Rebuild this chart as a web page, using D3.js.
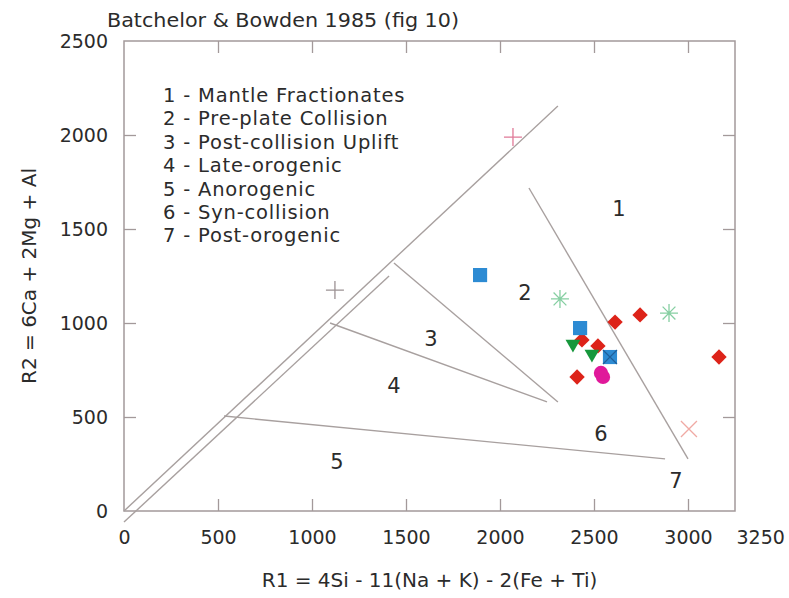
<!DOCTYPE html>
<html>
<head>
<meta charset="utf-8">
<script src="https://cdn.jsdelivr.net/npm/d3@7"></script>
<style>
  body { margin: 0; background: #fff; }
  text { font-family: "DejaVu Sans", sans-serif; fill: #2b2b2b; }
</style>
</head>
<body>
<div id="chart"></div>
<script>
// ---- data (R1, R2 values) ----
var xTicks = [0, 500, 1000, 1500, 2000, 2500, 3000, 3250];
var yTicks = [0, 500, 1000, 1500, 2000, 2500];

var fieldNotes = ["1 - Mantle Fractionates", "2 - Pre-plate Collision", "3 - Post-collision Uplift",
  "4 - Late-orogenic", "5 - Anorogenic", "6 - Syn-collision", "7 - Post-orogenic"];

// field boundaries [r1 start, r2 start, r1 end, r2 end]
var boundaries = [
  [0, 0, 2308, 2154],
  [0, -59, 1410, 1250],
  [1436, 1319, 2308, 580],
  [1096, 1000, 2250, 580],
  [532, 505, 2878, 277],
  [2154, 1718, 3000, 277]
];
var fieldNames = ["1", "2", "3", "4", "5", "6", "7"];
var fieldR1 = [2633, 2133, 1633, 1436, 1133, 2537, 2936];
var fieldR2 = [1612, 1165, 920, 670, 266, 415, 165];

var diamondR1 = [2612, 2745, 2436, 2521, 3165, 2410];
var diamondR2 = [1005, 1043, 910, 878, 819, 713];
var triangleR1 = [2388, 2489];
var triangleR2 = [888, 835];
var squareR1 = [1894, 2426];
var squareR2 = [1255, 973];
var squareXR1 = [2585];
var squareXR2 = [819];
var circleR1 = [2537, 2548];
var circleR2 = [734, 713];
var starR1 = [2319, 2899];
var starR2 = [1128, 1053];
var pinkPlusR1 = [2069];
var pinkPlusR2 = [1989];
var greyPlusR1 = [1122];
var greyPlusR2 = [1175];
var crossR1 = [3005];
var crossR2 = [436];

// ---- chart ----
var svgWidth = 789;
var svgHeight = 598;
var margin = { top: 41, right: 54, bottom: 87, left: 124 };
var width = svgWidth - margin.left - margin.right;
var height = svgHeight - margin.top - margin.bottom;

var frameColor = "#a3999a";

var svg = d3.select("#chart")
  .append("svg")
  .attr("width", svgWidth)
  .attr("height", svgHeight);

var chartGroup = svg.append("g")
  .attr("transform", `translate(${margin.left}, ${margin.top})`);

var xScale = d3.scaleLinear().domain([0, 3250]).range([0, width]);
var yScale = d3.scaleLinear().domain([0, 2500]).range([height, 0]);

// frame
chartGroup.append("rect")
  .attr("width", width)
  .attr("height", height)
  .attr("fill", "none")
  .attr("stroke", frameColor)
  .attr("stroke-width", 1.5);

// axes with inward ticks
var innerX = xTicks.filter(d => d > 0 && d < 3250);
var innerY = yTicks.filter(d => d > 0 && d < 2500);

var bottomAxis = d3.axisBottom(xScale).tickValues(xTicks).tickSizeInner(-12).tickSizeOuter(0).tickPadding(20)
  .tickFormat(d3.format("d"));
var leftAxis = d3.axisLeft(yScale).tickValues(yTicks).tickSizeInner(-12).tickSizeOuter(0).tickPadding(16)
  .tickFormat(d3.format("d"));
var topAxis = d3.axisTop(xScale).tickValues(innerX).tickSizeInner(-12).tickSizeOuter(0).tickFormat("");
var rightAxis = d3.axisRight(yScale).tickValues(innerY).tickSizeInner(-12).tickSizeOuter(0).tickFormat("");

function styleAxis(g) {
  g.select(".domain").remove();
  g.selectAll(".tick line").attr("stroke", frameColor).attr("stroke-width", 1.3);
  g.selectAll(".tick text")
    .attr("font-family", "Liberation Sans, sans-serif")
    .attr("font-size", 19)
    .attr("fill", "#2b2b2b");
}

var gx = chartGroup.append("g").attr("transform", `translate(0, ${height})`).call(bottomAxis).call(styleAxis);
gx.selectAll(".tick").filter(d => d === 0 || d === 3250).select("line").remove();
gx.selectAll(".tick").filter(d => d === 3250).select("text").attr("text-anchor", "start").attr("dx", 1);

var gy = chartGroup.append("g").call(leftAxis).call(styleAxis);
gy.selectAll(".tick").filter(d => d === 0 || d === 2500).select("line").remove();

chartGroup.append("g").call(topAxis).call(styleAxis);
chartGroup.append("g").attr("transform", `translate(${width}, 0)`).call(rightAxis).call(styleAxis);

// field boundaries
chartGroup.selectAll(".boundary")
  .data(boundaries)
  .enter()
  .append("line")
  .attr("class", "boundary")
  .attr("x1", d => xScale(d[0]))
  .attr("y1", d => yScale(d[1]))
  .attr("x2", d => xScale(d[2]))
  .attr("y2", d => yScale(d[3]))
  .attr("stroke", "#a8a09f")
  .attr("stroke-width", 1.4);

// field numbers
chartGroup.selectAll(".field")
  .data(fieldNames)
  .enter()
  .append("text")
  .attr("class", "field")
  .attr("x", (d, i) => xScale(fieldR1[i]))
  .attr("y", (d, i) => yScale(fieldR2[i]))
  .attr("text-anchor", "middle")
  .attr("dy", "0.36em")
  .attr("font-size", 21)
  .text(d => d);

// notes listing the fields
chartGroup.selectAll(".note")
  .data(fieldNotes)
  .enter()
  .append("text")
  .attr("class", "note")
  .attr("x", 39)
  .attr("y", (d, i) => 61 + i * 23.4)
  .attr("font-size", 19.5)
  .attr("letter-spacing", 0.8)
  .text(d => d);

// ---- samples ----
function pts(xs, ys) {
  return xs.map((x, i) => ({ x: x, y: ys[i] }));
}

function drawSymbols(data, type, size, color, rotate) {
  chartGroup.selectAll(null)
    .data(data)
    .enter()
    .append("path")
    .attr("d", d3.symbol().type(type).size(size))
    .attr("transform", d => `translate(${xScale(d.x)}, ${yScale(d.y)}) rotate(${rotate || 0})`)
    .attr("fill", color);
}

function drawStrokes(data, path, color, w) {
  chartGroup.selectAll(null)
    .data(data)
    .enter()
    .append("path")
    .attr("d", path)
    .attr("transform", d => `translate(${xScale(d.x)}, ${yScale(d.y)})`)
    .attr("fill", "none")
    .attr("stroke", color)
    .attr("stroke-width", w);
}

var plusPath = "M-9,0H9M0,-9V9";
var crossPath = "M-8,-8L8,8M-8,8L8,-8";
var starPath = "M-9,0H9M0,-9V9M-6.4,-6.4L6.4,6.4M-6.4,6.4L6.4,-6.4";

drawStrokes(pts(pinkPlusR1, pinkPlusR2), plusPath, "#e07a98", 1.3);
drawStrokes(pts(greyPlusR1, greyPlusR2), plusPath, "#9c9294", 1.3);
drawStrokes(pts(crossR1, crossR2), crossPath, "#f0aaa4", 1.3);
drawStrokes(pts(starR1, starR2), starPath, "#86cfa2", 1.3);

drawSymbols(pts(diamondR1, diamondR2), d3.symbolSquare, 118, "#dd2319", 45);
drawSymbols(pts(squareR1, squareR2), d3.symbolSquare, 200, "#2d8bd3");
drawSymbols(pts(triangleR1, triangleR2), d3.symbolTriangle, 95, "#17973c", 180);
drawSymbols(pts(squareXR1, squareXR2), d3.symbolSquare, 200, "#2d8bd3");
drawStrokes(pts(squareXR1, squareXR2), "M-7,-7L7,7M-7,7L7,-7", "#1f5f9a", 1.2);
drawSymbols(pts(circleR1, circleR2), d3.symbolCircle, 160, "#e0199a");

// titles
svg.append("text")
  .attr("x", 107)
  .attr("y", 27)
  .attr("font-size", 20)
  .attr("textLength", 352)
  .attr("lengthAdjust", "spacingAndGlyphs")
  .text("Batchelor & Bowden 1985 (fig 10)");

svg.append("text")
  .attr("x", margin.left + width / 2)
  .attr("y", 587)
  .attr("text-anchor", "middle")
  .attr("font-size", 20)
  .text("R1 = 4Si - 11(Na + K) - 2(Fe + Ti)");

svg.append("text")
  .attr("transform", `translate(36, ${margin.top + height / 2}) rotate(-90)`)
  .attr("text-anchor", "middle")
  .attr("font-size", 20)
  .text("R2 = 6Ca + 2Mg + Al");
</script>
</body>
</html>
